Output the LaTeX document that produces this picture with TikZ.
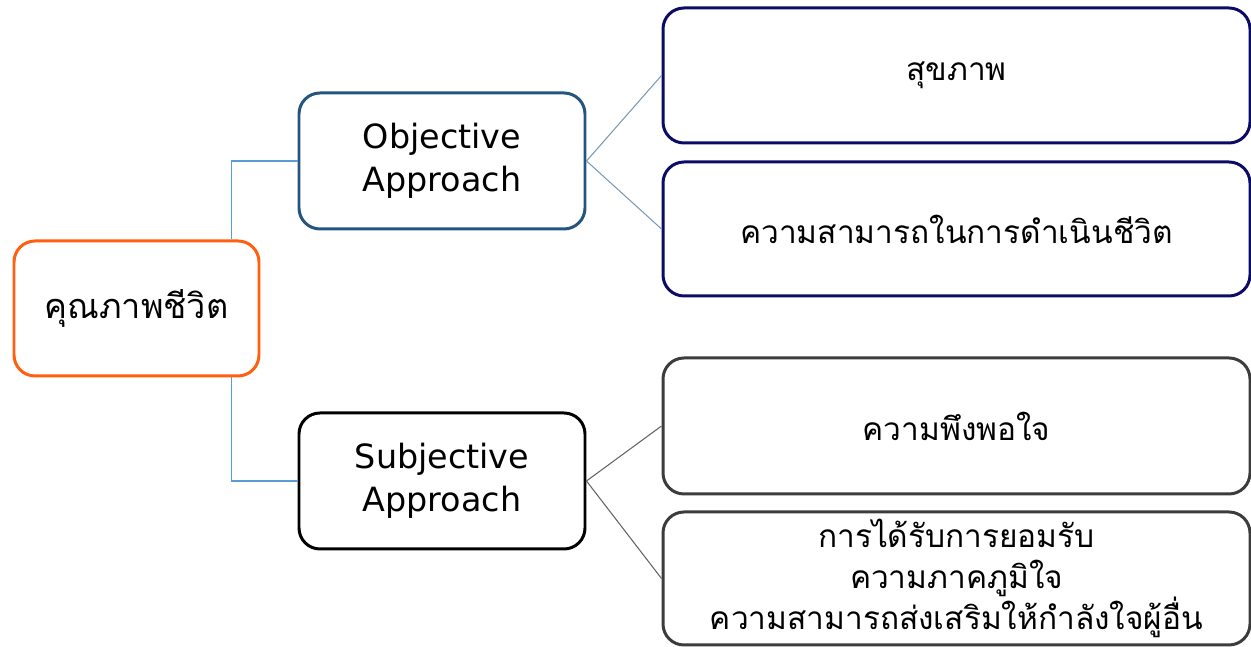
\documentclass[tikz,border=0pt]{standalone}
\usepackage{fontspec}
\setmainfont[Script=Thai]{Loma}
\newfontfamily\latinfont{DejaVu Sans}
\usetikzlibrary{positioning}

\definecolor{rootorange}{HTML}{FF5F0F}
\definecolor{objblue}{HTML}{25557F}
\definecolor{navybox}{HTML}{0C0C66}
\definecolor{subgray}{HTML}{3C3C3C}
\definecolor{linkblue}{HTML}{5B9BD5}

\tikzset{
  box/.style={draw, rounded corners=0.42cm, line width=1.7pt, fill=white,
    inner sep=0pt, align=center, font=\fontsize{18}{23.5}\selectfont},
  rootbox/.style={box, draw=rootorange, minimum width=4.9cm, minimum height=2.7cm,
    font=\fontsize{19.5}{24}\selectfont},
  midbox/.style={box, minimum width=5.72cm, minimum height=2.72cm,
    font=\latinfont\fontsize{19}{24.5}\selectfont},
  leafbox/.style={box, minimum width=11.74cm, minimum height=2.7cm},
  tree/.style={draw=linkblue, line width=1.1pt},
  twig/.style={line width=0.6pt}
}

\begin{document}
\begin{tikzpicture}
  \useasboundingbox (0,0) rectangle (25.02,12.94);

  % left side
  \node[rootbox] (root) at (2.73,6.77) {คุณภาพชีวิต};
  \node[midbox, draw=objblue] (obj) at (8.84,9.72) {Objective\\Approach};
  \node[midbox, draw=black] (subj) at (8.84,3.32) {Subjective\\Approach};

  % right side
  \node[leafbox, draw=navybox] (health) at (19.13,11.43) {สุขภาพ};
  \node[leafbox, draw=navybox, minimum height=2.68cm] (living) at (19.13,8.36) {ความสามารถในการดำเนินชีวิต};
  \node[leafbox, draw=subgray, minimum height=2.72cm] (satis) at (19.13,4.42) {ความพึงพอใจ};
  \node[leafbox, draw=subgray, minimum height=2.66cm] (accept) at (19.13,1.37)
    {การได้รับการยอมรับ\\ความภาคภูมิใจ\\ความสามารถส่งเสริมให้กำลังใจผู้อื่น};

  % links
  \draw[tree] ([xshift=-0.58cm]root.north east) |- (obj.west);
  \draw[tree] ([xshift=-0.58cm]root.south east) |- (subj.west);
  \draw[twig, draw=objblue!60] (obj.east) -- (health.west);
  \draw[twig, draw=objblue!60] (obj.east) -- (living.west);
  \draw[twig, draw=subgray!80] (subj.east) -- (satis.west);
  \draw[twig, draw=subgray!80] (subj.east) -- (accept.west);
\end{tikzpicture}
\end{document}
